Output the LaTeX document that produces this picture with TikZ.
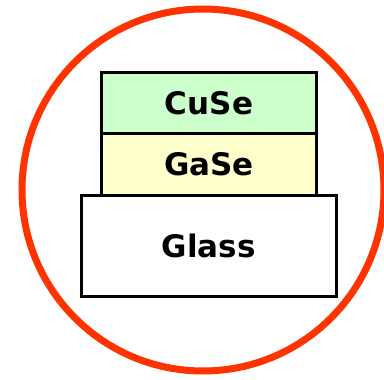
\documentclass[tikz,border=0pt]{standalone}
\usepackage{fontspec}
\setmainfont{DejaVu Sans}
\definecolor{ringred}{HTML}{FF3300}
\definecolor{cusegreen}{HTML}{CCFFCC}
\definecolor{gaseyellow}{HTML}{FFFFCC}
\begin{document}
\begin{tikzpicture}[x=1pt,y=-1pt,
  layer/.style={draw=black,line width=3pt,inner sep=0pt,font=\fontsize{31}{31}\selectfont\bfseries},
  ring/.style={draw=ringred,line width=7pt,circle,inner sep=0pt,minimum size=362pt}]
\useasboundingbox (0,0) rectangle (384,380);
\node[ring] (ring) at (203,190) {};
\node[layer,fill=white,minimum width=255.5pt,minimum height=101.5pt] (glass) at (208.75,245.75) {Glass};
\node[layer,fill=gaseyellow,minimum width=215pt,minimum height=61.5pt] (gase) at (209,164.25) {GaSe};
\node[layer,fill=cusegreen,minimum width=215pt,minimum height=61pt] (cuse) at (209,103) {CuSe};
\end{tikzpicture}
\end{document}
